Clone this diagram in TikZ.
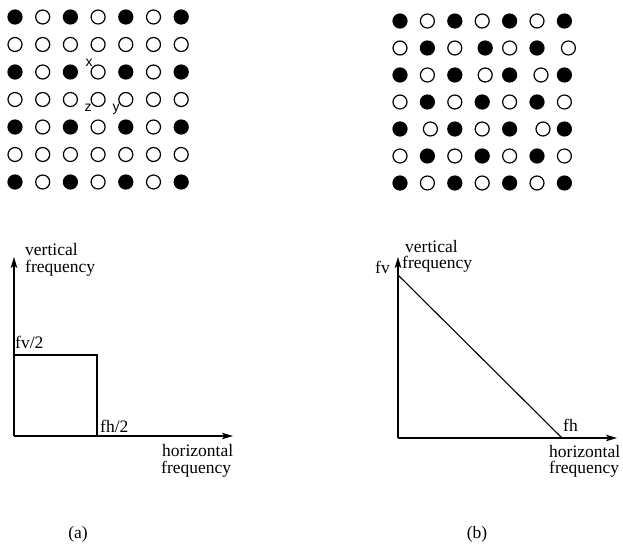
\documentclass[tikz,border=0pt]{standalone}
\usepackage{fontspec}
\setmainfont{Liberation Serif}
\newfontfamily\labfont{Liberation Sans}
\usetikzlibrary{arrows.meta}
\begin{document}
\begin{tikzpicture}[x=1pt,y=-1pt,
  dot/.style={circle,draw=black,line width=1.2pt,minimum size=14pt,inner sep=0pt},
  full/.style={dot,fill=black},
  hollow/.style={dot,fill=white},
  txt/.style={inner sep=0pt,anchor=base west,font=\fontsize{17.5}{20}\selectfont},
  ptlab/.style={inner sep=0pt,font=\labfont\fontsize{14}{16}\selectfont},
  axis/.style={line width=1.1pt,-{Stealth[length=11pt,width=6.5pt,inset=2.5pt]}},
  edge/.style={line width=1.1pt}]
\useasboundingbox (0,0) rectangle (623,546);
% left lattice
\foreach \i in {0,...,6}{
  \foreach \j in {0,...,6}{
    \pgfmathtruncatemacro{\f}{(mod(\i,2)==0)&&(mod(\j,2)==0)}
    \ifnum\f=1
      \node[full] (L-\i-\j) at ({15+27.7*\i},{17+27.5*\j}) {};
    \else
      \node[hollow] (L-\i-\j) at ({15+27.7*\i},{17+27.5*\j}) {};
    \fi
  }
}
\node[ptlab] (lx) at (89,63) {x};
\node[ptlab] (lz) at (88,108) {z};
\node[ptlab] (ly) at (116,109) {y};
% right lattice
\foreach \i in {0,...,6}{
  \foreach \j in {0,...,6}{
    \pgfmathtruncatemacro{\f}{mod(\i+\j,2)==0}
    \pgfmathsetmacro{\dx}{(\i==3&&\j==1)*3+(\i==6&&\j==1)*4+(\i==3&&\j==2)*3+(\i==5&&\j==2)*4+(\i==1&&\j==4)*3+(\i==5&&\j==4)*6}
    \ifnum\f=1
      \node[full] (R-\i-\j) at ({400+27.4*\i+\dx},{21+27*\j}) {};
    \else
      \node[hollow] (R-\i-\j) at ({400+27.4*\i+\dx},{21+27*\j}) {};
    \fi
  }
}
% left spectrum
\coordinate (Oa) at (14,436);
\coordinate (Ya) at (14,257);
\coordinate (Xa) at (233,436);
\coordinate (Sa) at (97,355);
\draw[axis] (Oa) -- (Ya);
\draw[axis] (Oa) -- (Xa);
\draw[edge] (Oa |- Sa) -- (Sa) -- (Sa |- Oa);
\node[txt] (va) at (25,255) {vertical};
\node[txt] (vfa) at (25,272) {frequency};
\node[txt] (fva) at (15,348) {fv/2};
\node[txt] (fha) at (100,432) {fh/2};
\node[txt] (ha) at (162,456) {horizontal};
\node[txt] (hfa) at (161,473) {frequency};
% right spectrum
\coordinate (Ob) at (398,438);
\coordinate (Yb) at (398,257);
\coordinate (Xb) at (617,438);
\coordinate (Tb) at (398,275);
\coordinate (Hb) at (562,438);
\draw[axis] (Ob) -- (Yb);
\draw[axis] (Ob) -- (Xb);
\draw[edge] (Tb) -- (Hb);
\node[txt] (vb) at (405,252) {vertical};
\node[txt] (vfb) at (402,268) {frequency};
\node[txt] (fvb) at (375,273) {fv};
\node[txt] (fhb) at (563,431) {fh};
\node[txt] (hb) at (549,457) {horizontal};
\node[txt] (hfb) at (549,473) {frequency};
% captions
\node[inner sep=0pt,font=\fontsize{17.5}{20}\selectfont] (capa) at (78,534) {(a)};
\node[inner sep=0pt,font=\fontsize{17.5}{20}\selectfont] (capb) at (477,534) {(b)};
\end{tikzpicture}
\end{document}
